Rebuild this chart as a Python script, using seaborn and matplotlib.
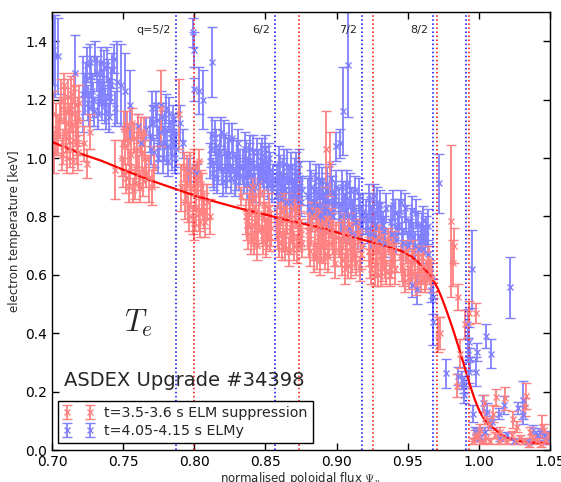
import numpy as np
import matplotlib
matplotlib.use("Agg")
import matplotlib.pyplot as plt
import seaborn as sns

# ---------------- data ----------------
# ELM suppression (red) clusters: (psi, Te [keV], error)
red_core_a = [(0.7005,1.15,0.08),(0.7015,1.02,0.07),(0.7025,1.10,0.09),
              (0.7045,1.08,0.07),(0.706,1.20,0.07),(0.7075,1.04,0.06),(0.709,1.16,0.08),
              (0.7105,1.00,0.05),(0.712,1.12,0.07),(0.7135,1.22,0.06),(0.715,1.06,0.06),
              (0.7165,1.18,0.07),(0.718,1.02,0.06),(0.7185,1.13,0.08),(0.7175,1.05,0.07),
              (0.7085,1.25,0.04),(0.7145,0.99,0.04),(0.717,1.10,0.06),
              (0.7058,1.13,0.06),(0.7068,1.01,0.05),(0.7083,1.18,0.06),(0.7098,1.09,0.07),
              (0.7113,1.21,0.06),(0.7128,1.03,0.06),(0.7143,1.15,0.06),(0.7158,1.24,0.05),
              (0.7173,1.07,0.06),(0.7188,1.19,0.06),(0.7100,1.07,0.05),(0.7130,1.11,0.06),
              (0.7225,1.05,0.06),(0.7245,0.98,0.05),(0.7265,1.09,0.06),(0.7445,0.96,0.10)]
red_core_b = [(0.749,1.00,0.06),(0.7505,1.10,0.06),(0.752,0.93,0.05),(0.7535,1.05,0.07),
              (0.755,0.97,0.06),(0.7565,1.12,0.05),(0.758,0.91,0.05),(0.7595,1.03,0.06),
              (0.761,0.95,0.06),(0.7625,1.08,0.06),(0.764,0.92,0.05),(0.7655,1.00,0.06),
              (0.7498,0.95,0.05),(0.7513,1.04,0.06),(0.7528,1.11,0.05),(0.7543,0.90,0.05),
              (0.7558,1.01,0.06),(0.7573,1.07,0.05),(0.7588,0.97,0.06),(0.7603,1.10,0.05),
              (0.7618,0.90,0.05),(0.7633,1.02,0.06),(0.7648,1.09,0.05),(0.7663,0.95,0.05),
              (0.757,0.89,0.04),(0.768,0.93,0.08),(0.770,0.90,0.06),(0.772,0.97,0.07),
              (0.7765,1.17,0.13),(0.789,1.15,0.12)]
red_core_c = [(0.7935,0.85,0.06),(0.795,0.95,0.06),(0.7965,0.80,0.05),(0.798,0.90,0.07),
              (0.7995,0.97,0.06),(0.801,0.83,0.06),(0.8025,0.93,0.06),(0.804,0.78,0.05),
              (0.8055,0.88,0.07),(0.807,0.82,0.06),(0.800,0.76,0.04),(0.803,0.99,0.04),
              (0.7943,0.91,0.06),(0.7958,0.83,0.05),(0.7973,0.96,0.06),(0.7988,0.79,0.05),
              (0.8003,0.88,0.06),(0.8018,0.94,0.05),(0.8033,0.81,0.06),(0.8048,0.91,0.05),
              (0.8063,0.85,0.06),(0.7928,0.97,0.05),(0.8078,0.78,0.05),
              (0.791,0.90,0.08),(0.809,0.85,0.06),(0.811,0.80,0.06)]
red_core_d = [(0.836,0.80,0.06),(0.8375,0.74,0.05),(0.839,0.85,0.05),(0.8405,0.77,0.06),
              (0.842,0.71,0.04),(0.8435,0.82,0.06),(0.845,0.75,0.05),(0.8465,0.88,0.04),
              (0.848,0.72,0.05),(0.8495,0.79,0.06),(0.851,0.74,0.05),(0.8525,0.83,0.05),
              (0.854,0.76,0.06),(0.833,0.87,0.03),(0.841,0.90,0.03),
              (0.8368,0.77,0.05),(0.8383,0.82,0.06),(0.8398,0.72,0.05),(0.8413,0.86,0.05),
              (0.8428,0.78,0.06),(0.8443,0.70,0.05),(0.8458,0.81,0.06),(0.8473,0.76,0.05),
              (0.8488,0.84,0.05),(0.8503,0.71,0.05),(0.8518,0.78,0.06),(0.8533,0.73,0.05),
              (0.858,0.78,0.06),(0.8595,0.71,0.05),(0.861,0.82,0.05),(0.8625,0.74,0.06),
              (0.864,0.69,0.04),(0.8655,0.80,0.06),(0.867,0.72,0.05),(0.8685,0.77,0.06),
              (0.870,0.70,0.05),(0.8715,0.81,0.05),(0.873,0.73,0.05),(0.8745,0.76,0.06),
              (0.876,0.71,0.05),
              (0.8588,0.74,0.05),(0.8603,0.79,0.06),(0.8618,0.70,0.05),(0.8633,0.83,0.05),
              (0.8648,0.75,0.06),(0.8663,0.68,0.05),(0.8678,0.79,0.06),(0.8693,0.73,0.05),
              (0.8708,0.83,0.05),(0.8723,0.69,0.05),(0.8738,0.78,0.06),(0.8753,0.74,0.05)]
red_core_e = [(0.880,0.75,0.06),(0.8815,0.68,0.05),(0.883,0.80,0.05),(0.8845,0.71,0.06),
              (0.886,0.66,0.04),(0.8875,0.77,0.06),(0.889,0.70,0.05),(0.8905,0.74,0.05),
              (0.892,0.67,0.05),(0.8935,0.79,0.05),(0.895,0.71,0.05),(0.8965,0.75,0.06),
              (0.898,0.68,0.05),(0.8995,0.73,0.05),
              (0.8808,0.71,0.05),(0.8823,0.77,0.06),(0.8838,0.66,0.05),(0.8853,0.80,0.05),
              (0.8868,0.73,0.06),(0.8883,0.65,0.05),(0.8898,0.77,0.05),(0.8913,0.70,0.06),
              (0.8928,0.75,0.05),(0.8943,0.66,0.05),(0.8958,0.78,0.05),(0.8973,0.72,0.05),
              (0.8988,0.64,0.05),(0.8923,1.03,0.13),(0.8955,0.98,0.11),
              (0.902,0.72,0.06),(0.9035,0.65,0.05),(0.905,0.76,0.05),(0.9065,0.68,0.05),
              (0.908,0.63,0.04),(0.9095,0.73,0.05),(0.911,0.66,0.05),(0.9125,0.70,0.05),
              (0.914,0.64,0.04),(0.9155,0.75,0.04),(0.917,0.67,0.05),
              (0.9028,0.68,0.05),(0.9043,0.74,0.05),(0.9058,0.62,0.05),(0.9073,0.71,0.05),
              (0.9088,0.77,0.04),(0.9103,0.64,0.05),(0.9118,0.72,0.05),(0.9133,0.67,0.05),
              (0.9148,0.74,0.05),(0.9163,0.62,0.04),(0.9178,0.70,0.05)]
red_core_f = [(0.923,0.68,0.05),(0.9245,0.62,0.05),(0.926,0.72,0.05),(0.9275,0.65,0.05),
              (0.929,0.60,0.04),(0.9305,0.70,0.05),(0.932,0.63,0.05),(0.9335,0.67,0.05),
              (0.935,0.61,0.04),(0.9365,0.71,0.04),(0.938,0.64,0.05),(0.9395,0.68,0.05),
              (0.941,0.62,0.05),
              (0.9238,0.64,0.05),(0.9253,0.70,0.05),(0.9268,0.60,0.04),(0.9283,0.68,0.05),
              (0.9298,0.73,0.04),(0.9313,0.61,0.05),(0.9328,0.69,0.05),(0.9343,0.64,0.05),
              (0.9358,0.72,0.04),(0.9373,0.60,0.04),(0.9388,0.66,0.05),(0.9403,0.70,0.05),
              (0.945,0.66,0.05),(0.947,0.61,0.05),(0.949,0.68,0.04),(0.951,0.59,0.04),
              (0.953,0.64,0.05),(0.955,0.60,0.05),(0.957,0.66,0.04),(0.959,0.58,0.04),
              (0.961,0.63,0.05),(0.963,0.60,0.05),(0.965,0.65,0.05),(0.967,0.59,0.05),
              (0.946,0.63,0.05),(0.948,0.58,0.04),(0.950,0.65,0.05),(0.952,0.61,0.04),
              (0.954,0.68,0.04),(0.956,0.57,0.04),(0.958,0.62,0.05),(0.960,0.66,0.04),
              (0.962,0.58,0.04),(0.964,0.63,0.05),(0.966,0.61,0.04)]
red_edge = [(0.9715,0.395,0.06),(0.9727,0.40,0.055),(0.9804,0.785,0.26),(0.9827,0.70,0.06),
            (0.9815,0.64,0.08),(0.9855,0.525,0.045),(0.9977,0.47,0.035),(0.9844,0.22,0.04),
            (0.9866,0.33,0.05),(0.9903,0.43,0.05),(0.9928,0.47,0.04),
            (0.9973,0.05,0.02),(0.9996,0.05,0.02),(1.0038,0.16,0.03),(1.0101,0.125,0.03),
            (1.0183,0.177,0.04),(1.0242,0.105,0.03),(1.0324,0.148,0.03),(1.0441,0.08,0.04),
            (1.0041,0.11,0.02),(1.0117,0.18,0.03),(1.0331,0.185,0.045)]
red_sol = [(0.996,0.03,0.01),(0.999,0.04,0.01),(1.002,0.03,0.01),(1.005,0.04,0.015),
           (1.008,0.03,0.01),(1.011,0.05,0.01),(1.014,0.03,0.01),(1.017,0.04,0.01),
           (1.020,0.03,0.01),(1.023,0.05,0.015),(1.026,0.03,0.01),(1.029,0.04,0.01),
           (1.032,0.03,0.01),(1.035,0.02,0.01),(1.038,0.04,0.01),(1.041,0.03,0.01),
           (1.044,0.02,0.01),(1.047,0.03,0.01),(1.049,0.05,0.01),
           (1.001,0.07,0.02),(1.007,0.09,0.02),(1.015,0.06,0.02),(1.027,0.08,0.02),
           (1.036,0.06,0.02),(1.046,0.07,0.02)]

# ELMy (blue) clusters
blue_core_a = [(0.7005,1.37,0.12),(0.702,1.35,0.14),(0.704,1.35,0.13),
               (0.716,1.29,0.13),(0.7215,1.22,0.13),
               (0.723,1.22,0.07),(0.7245,1.32,0.06),(0.726,1.17,0.06),(0.7275,1.28,0.07),
               (0.729,1.20,0.06),(0.7305,1.34,0.06),(0.732,1.15,0.05),(0.7335,1.26,0.07),
               (0.735,1.19,0.06),(0.7365,1.31,0.06),(0.738,1.16,0.06),(0.7395,1.27,0.07),
               (0.741,1.21,0.06),(0.7425,1.30,0.06),(0.744,1.17,0.06),
               (0.7238,1.27,0.06),(0.7253,1.19,0.06),(0.7268,1.33,0.06),(0.7283,1.23,0.06),
               (0.7298,1.16,0.05),(0.7313,1.29,0.06),(0.7328,1.21,0.06),(0.7343,1.33,0.05),
               (0.7358,1.24,0.06),(0.7373,1.18,0.06),(0.7388,1.32,0.06),(0.7403,1.14,0.05),
               (0.7418,1.25,0.06),(0.7433,1.34,0.05),
               (0.7455,1.26,0.14),(0.7485,1.25,0.14),(0.7515,1.23,0.13),(0.7545,1.18,0.12),
               (0.7605,1.11,0.04),(0.766,1.10,0.04),(0.7625,1.05,0.04)]
blue_core_b = [(0.769,1.08,0.06),(0.7705,1.17,0.06),(0.772,1.02,0.05),(0.7735,1.13,0.06),
               (0.775,1.05,0.06),(0.7765,1.18,0.05),(0.778,1.00,0.05),(0.7795,1.10,0.06),
               (0.781,1.04,0.06),(0.7825,1.15,0.06),(0.784,1.01,0.05),(0.7855,1.09,0.06),
               (0.787,1.03,0.06),
               (0.7698,1.03,0.05),(0.7713,1.12,0.06),(0.7728,1.18,0.05),(0.7743,1.00,0.05),
               (0.7758,1.09,0.06),(0.7773,1.14,0.05),(0.7788,1.05,0.06),(0.7803,1.17,0.05),
               (0.7818,0.99,0.05),(0.7833,1.07,0.06),(0.7848,1.13,0.05),(0.7863,1.00,0.05),
               (0.799,1.43,0.05),(0.7995,1.37,0.06),(0.800,1.235,0.04),(0.8035,1.23,0.08),
               (0.806,1.20,0.10),(0.8125,1.33,0.12),(0.790,1.12,0.06),(0.792,1.05,0.05),
               (0.796,0.96,0.04),(0.8015,0.95,0.03)]
blue_core_c = [(0.811,0.99,0.06),(0.8125,1.08,0.06),(0.814,0.94,0.05),(0.8155,1.04,0.06),
               (0.817,0.97,0.06),(0.8185,1.09,0.05),(0.820,0.92,0.05),(0.8215,1.02,0.06),
               (0.823,0.96,0.06),(0.8245,1.06,0.06),(0.826,0.93,0.05),(0.8275,1.01,0.06),
               (0.829,0.95,0.06),(0.8305,1.05,0.05),(0.832,0.97,0.06),
               (0.8118,1.03,0.06),(0.8133,0.95,0.05),(0.8148,1.07,0.06),(0.8163,0.93,0.05),
               (0.8178,1.02,0.06),(0.8193,0.96,0.05),(0.8208,1.08,0.05),(0.8223,0.93,0.05),
               (0.8238,1.01,0.06),(0.8253,0.97,0.05),(0.8268,1.07,0.05),(0.8283,0.92,0.05),
               (0.8298,1.00,0.06),(0.8313,0.94,0.05),
               (0.834,0.97,0.06),(0.8355,1.03,0.06),(0.837,0.91,0.05),(0.8385,0.99,0.06),
               (0.840,0.94,0.05),(0.8415,1.02,0.06),(0.843,0.90,0.05),(0.8445,0.97,0.06),
               (0.846,0.93,0.05),(0.8475,1.01,0.06),(0.849,0.92,0.05),(0.8505,0.98,0.06),
               (0.852,0.91,0.05),(0.8535,0.96,0.06),(0.855,0.93,0.05),
               (0.8348,0.93,0.05),(0.8363,1.00,0.06),(0.8378,0.95,0.05),(0.8393,1.03,0.05),
               (0.8408,0.90,0.05),(0.8423,0.97,0.06),(0.8438,1.02,0.05),(0.8453,0.92,0.05),
               (0.8468,0.99,0.06),(0.8483,0.95,0.05),(0.8498,1.03,0.05),(0.8513,0.94,0.05),
               (0.8528,1.00,0.05),(0.8543,0.90,0.05)]
blue_core_d = [(0.858,0.92,0.06),(0.8595,0.98,0.06),(0.861,0.86,0.05),(0.8625,0.94,0.06),
               (0.864,0.89,0.05),(0.8655,0.97,0.06),(0.867,0.85,0.05),(0.8685,0.92,0.06),
               (0.870,0.88,0.05),(0.8715,0.96,0.06),(0.873,0.86,0.05),(0.8745,0.93,0.06),
               (0.876,0.89,0.05),
               (0.8588,0.88,0.05),(0.8603,0.95,0.06),(0.8618,0.90,0.05),(0.8633,0.98,0.05),
               (0.8648,0.85,0.05),(0.8663,0.92,0.06),(0.8678,0.97,0.05),(0.8693,0.87,0.05),
               (0.8708,0.94,0.06),(0.8723,0.90,0.05),(0.8738,0.98,0.05),(0.8753,0.85,0.05),
               (0.880,0.87,0.06),(0.8815,0.93,0.06),(0.883,0.81,0.05),(0.8845,0.89,0.06),
               (0.886,0.84,0.05),(0.8875,0.92,0.06),(0.889,0.80,0.05),(0.8905,0.87,0.06),
               (0.892,0.83,0.05),(0.8935,0.91,0.06),(0.895,0.81,0.05),(0.8965,0.88,0.06),
               (0.898,0.84,0.05),(0.8995,0.90,0.06),
               (0.8808,0.83,0.05),(0.8823,0.90,0.06),(0.8838,0.85,0.05),(0.8853,0.93,0.05),
               (0.8868,0.80,0.05),(0.8883,0.87,0.06),(0.8898,0.92,0.05),(0.8913,0.82,0.05),
               (0.8928,0.89,0.06),(0.8943,0.85,0.05),(0.8958,0.93,0.05),(0.8973,0.80,0.05),
               (0.8988,0.87,0.05),
               (0.9045,1.16,0.15),(0.908,1.32,0.18),(0.8995,1.04,0.05),(0.9025,1.05,0.05)]
blue_core_e = [(0.902,0.84,0.06),(0.9035,0.90,0.06),(0.905,0.76,0.05),(0.9065,0.86,0.06),
               (0.908,0.80,0.05),(0.9095,0.89,0.06),(0.911,0.74,0.05),(0.9125,0.83,0.06),
               (0.914,0.78,0.05),(0.9155,0.87,0.06),(0.917,0.75,0.05),(0.9185,0.82,0.06),
               (0.9028,0.80,0.05),(0.9043,0.87,0.05),(0.9058,0.82,0.06),(0.9073,0.91,0.05),
               (0.9088,0.76,0.05),(0.9103,0.85,0.05),(0.9118,0.80,0.06),(0.9133,0.89,0.05),
               (0.9148,0.74,0.05),(0.9163,0.83,0.05),(0.9178,0.79,0.05),
               (0.921,0.80,0.06),(0.9225,0.86,0.05),(0.924,0.74,0.05),(0.9255,0.82,0.06),
               (0.927,0.77,0.05),(0.9285,0.85,0.05),(0.930,0.72,0.05),(0.9315,0.79,0.06),
               (0.933,0.75,0.05),(0.9345,0.83,0.05),
               (0.9218,0.76,0.05),(0.9233,0.83,0.05),(0.9248,0.79,0.05),(0.9263,0.87,0.04),
               (0.9278,0.73,0.05),(0.9293,0.80,0.05),(0.9308,0.84,0.05),(0.9323,0.77,0.05),
               (0.9338,0.71,0.05),
               (0.938,0.78,0.06),(0.940,0.84,0.05),(0.942,0.72,0.05),(0.944,0.80,0.06),
               (0.946,0.75,0.05),(0.948,0.83,0.05),(0.950,0.70,0.05),(0.952,0.77,0.06),
               (0.954,0.73,0.05),(0.956,0.81,0.05),(0.958,0.69,0.05),(0.960,0.76,0.05),
               (0.962,0.72,0.05),(0.964,0.67,0.05),
               (0.939,0.74,0.05),(0.941,0.81,0.05),(0.943,0.77,0.05),(0.945,0.85,0.04),
               (0.947,0.71,0.05),(0.949,0.79,0.05),(0.951,0.74,0.05),(0.953,0.82,0.05),
               (0.955,0.70,0.05),(0.957,0.77,0.05),(0.959,0.73,0.05),(0.961,0.69,0.05),
               (0.963,0.75,0.05)]
blue_edge = [(0.9609,0.787,0.05),(0.9642,0.767,0.06),(0.9528,0.565,0.04),(0.9565,0.55,0.05),
             (0.9675,0.525,0.06),(0.968,0.44,0.08),(0.9664,0.548,0.04),
             (0.972,0.913,0.10),(0.9954,0.62,0.135),(1.0219,0.557,0.105),
             (0.9767,0.262,0.05),(0.9855,0.253,0.03),(0.9879,0.24,0.03),(0.9893,0.225,0.03),
             (0.9898,0.19,0.03),(0.9921,0.342,0.04),(0.9932,0.37,0.05),(0.9926,0.433,0.05),
             (0.9935,0.31,0.04),(0.993,0.268,0.04),(0.9985,0.336,0.03),(1.0048,0.39,0.04),
             (1.0085,0.33,0.05),(0.9979,0.268,0.05),(1.0029,0.16,0.03),(1.0054,0.13,0.03),
             (1.0142,0.125,0.02),(1.018,0.154,0.03),(1.0307,0.17,0.065),(1.0275,0.144,0.02),
             (1.031,0.12,0.03),(1.009,0.097,0.02),(0.996,0.125,0.03)]
blue_sol = [(0.9985,0.057,0.02),(1.0043,0.06,0.02),(1.001,0.045,0.015),(1.0347,0.029,0.01),
            (1.0406,0.05,0.015),(1.043,0.06,0.015),(1.0465,0.05,0.015),(0.997,0.06,0.02),
            (1.000,0.04,0.01),(1.015,0.04,0.01),(1.020,0.05,0.01),(1.025,0.03,0.01),
            (1.038,0.07,0.015),(1.048,0.03,0.01)]

# fitted profile (red curve)
fit_psi = [0.700,0.720,0.735,0.750,0.770,0.785,0.800,0.815,0.830,0.850,0.870,0.890,
           0.905,0.920,0.935,0.940,0.945,0.949,0.953,0.957,0.960,0.963,0.966,0.9685,
           0.971,0.9735,0.976,0.9785,0.981,0.983,0.985,0.987,0.989,0.991,0.993,0.995,
           0.997,0.999,1.001,1.003,1.006,1.0085,1.011,1.014,1.018,1.026,1.036,1.050]
fit_te = [1.055,1.015,0.990,0.960,0.922,0.897,0.872,0.850,0.830,0.806,0.782,0.760,
          0.738,0.718,0.698,0.691,0.683,0.673,0.661,0.645,0.630,0.614,0.596,0.577,
          0.554,0.526,0.494,0.460,0.425,0.395,0.364,0.333,0.300,0.267,0.235,0.204,
          0.175,0.150,0.128,0.111,0.093,0.082,0.072,0.060,0.047,0.032,0.025,0.023]

# rational surfaces
q_labels = ["q=5/2", "6/2", "7/2", "8/2", None]
q_blue = [0.787, 0.857, 0.918, 0.968, 0.9907]
q_red = [0.800, 0.8736, 0.9254, 0.9703, 0.993]

label_red = "t=3.5-3.6 s ELM suppression"
label_blue = "t=4.05-4.15 s ELMy"

# ---------------- plotting ----------------
sns.set_style("ticks")
plt.rcParams['font.family'] = ['DejaVu Sans']
plt.rcParams['mathtext.fontset'] = 'cm'
plt.rcParams['xtick.direction'] = 'in'
plt.rcParams['ytick.direction'] = 'in'

fig = plt.figure(figsize=(5.61, 4.82), dpi=100)
ax = fig.add_axes([52/561, 1-450/482, 498/561, 438/482])

def unpack(groups):
    arr = np.array([p for g in groups for p in g])
    return arr[:, 0], arr[:, 1], arr[:, 2]

bx, by, be = unpack([blue_core_a, blue_core_b, blue_core_c, blue_core_d, blue_core_e,
                     blue_edge, blue_sol])
rx, ry, re = unpack([red_core_a, red_core_b, red_core_c, red_core_d, red_core_e,
                     red_core_f, red_edge, red_sol])

c_red = '#ff8080'
c_blue = '#8080ff'
hb = ax.errorbar(bx, by, yerr=be, fmt='x', color=c_blue, ecolor=c_blue, ms=3.8,
                 mew=1.0, elinewidth=1.3, capsize=3.3, capthick=1.3, label=label_blue)
hr = ax.errorbar(rx, ry, yerr=re, fmt='x', color=c_red, ecolor=c_red, ms=3.8,
                 mew=1.0, elinewidth=1.3, capsize=3.3, capthick=1.3, label=label_red)

for xb, xr, lab in zip(q_blue, q_red, q_labels):
    ax.axvline(xb, color='blue', ls=':', lw=1.1)
    ax.axvline(xr, color='red', ls=':', lw=1.1)
    if lab:
        ax.text(xb - 0.0035, 1.437, lab, ha='right', va='center', fontsize=8)

sns.lineplot(x=fit_psi, y=fit_te, color='red', lw=1.6, ax=ax)

ax.text(0.7505, 0.405, r"$T_e$", fontsize=22, ha='left', va='baseline')
ax.text(0.7085, 0.219, "ASDEX Upgrade #34398", fontsize=14, ha='left', va='baseline')

ax.set_xlim(0.70, 1.05)
ax.set_ylim(0.0, 1.5)
ax.set_xticks([0.70, 0.75, 0.80, 0.85, 0.90, 0.95, 1.00, 1.05])
ax.set_xticklabels(["0.70", "0.75", "0.80", "0.85", "0.90", "0.95", "1.00", "1.05"])
ax.set_yticks([0.0, 0.2, 0.4, 0.6, 0.8, 1.0, 1.2, 1.4])
ax.set_yticklabels(["0.0", "0.2", "0.4", "0.6", "0.8", "1.0", "1.2", "1.4"])
ax.tick_params(axis='both', which='both', direction='in', top=True, right=True,
               length=5, width=1, labelsize=10, colors='black')
for s in ax.spines.values():
    s.set_color('black')
    s.set_linewidth(1.0)
ax.set_xlabel(r"normalised poloidal flux $\Psi_n$", fontsize=8.5, labelpad=1)
ax.set_ylabel("electron temperature [keV]", fontsize=8.5, labelpad=3)

leg = ax.legend(handles=[hr, hb], labels=[label_red, label_blue], numpoints=2,
                loc='lower left', bbox_to_anchor=(0.012, 0.016), borderaxespad=0,
                fancybox=False, framealpha=1, edgecolor='black', fontsize=10.3,
                handlelength=2.2, handletextpad=0.7, borderpad=0.35, labelspacing=0.3)
leg.get_frame().set_linewidth(1.0)

fig.savefig("out.png", dpi=100)
